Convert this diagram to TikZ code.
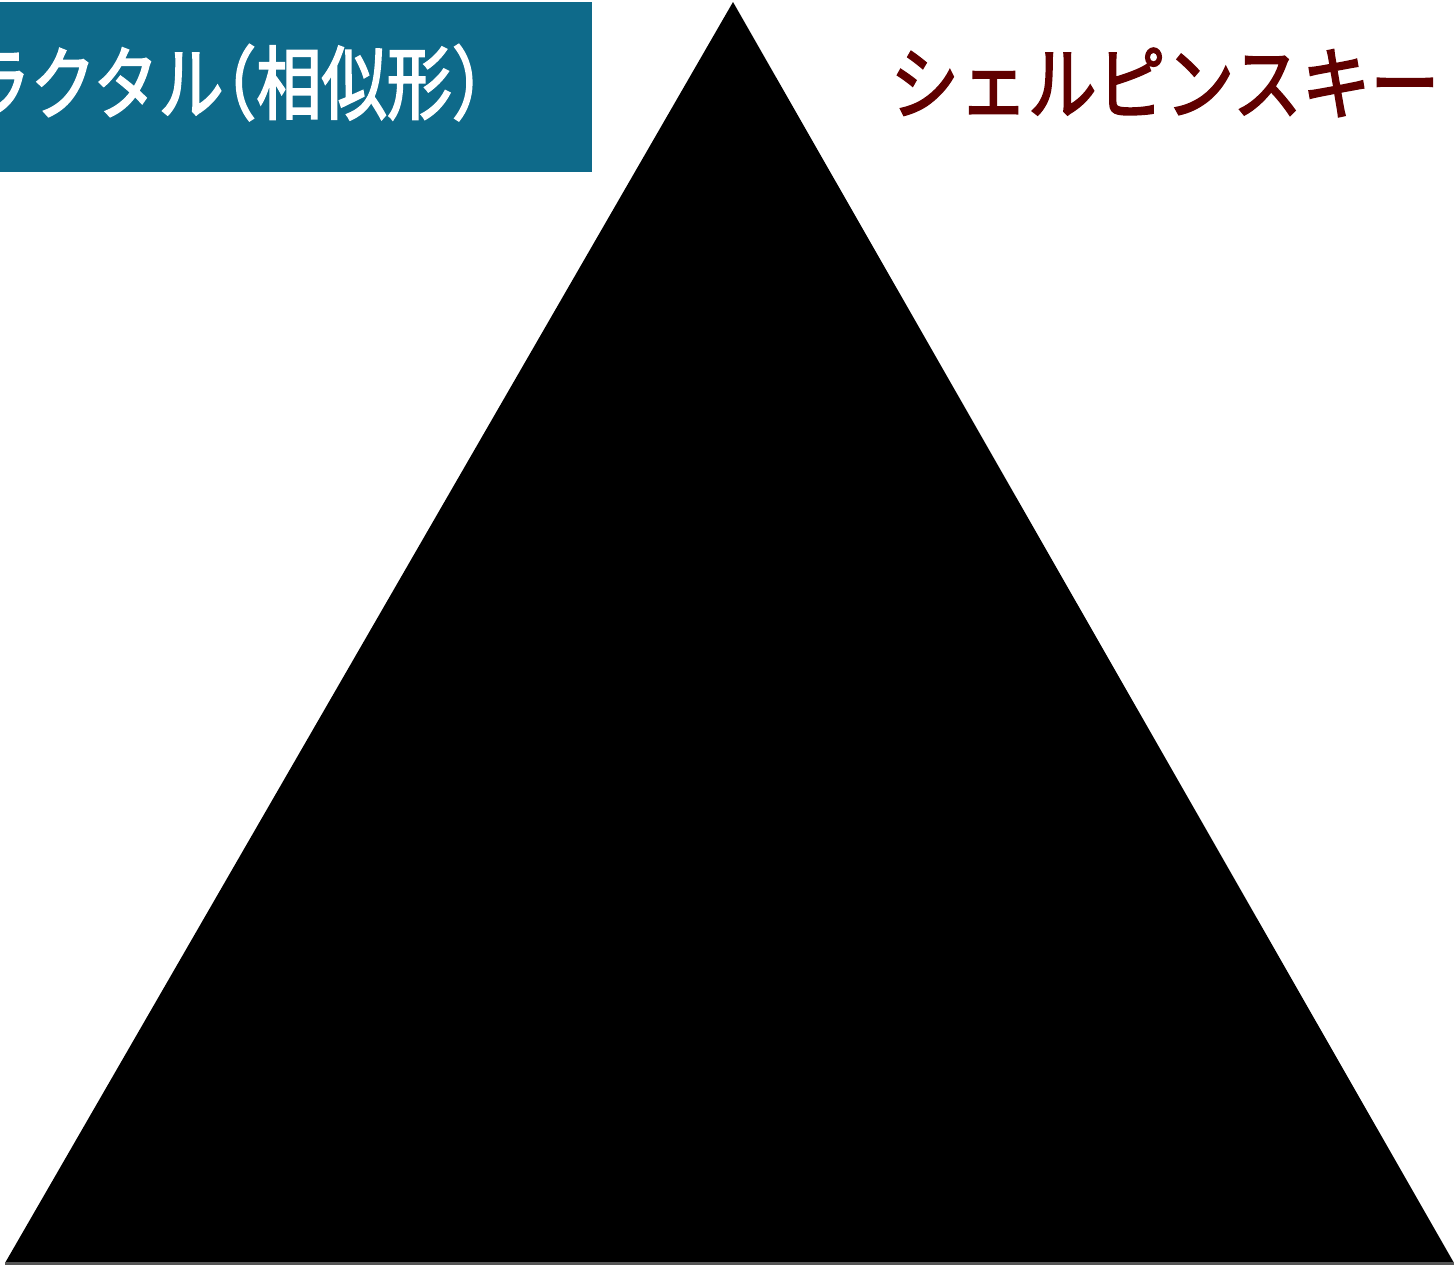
\documentclass[tikz,border=0pt]{standalone}
\usepackage{fontspec}
\newfontfamily\jp{Noto Sans CJK JP}
\newfontfamily\jph[RawFeature=+halt]{Noto Sans CJK JP}
\newcommand{\thicktext}[1]{\special{pdf:literal direct 2 Tr 1 w}#1\special{pdf:literal direct 0 Tr}}
\definecolor{teal1}{RGB}{14,106,138}
\definecolor{red1}{RGB}{96,0,0}
\definecolor{gray1}{RGB}{85,85,85}
\tikzset{
  title/.style={inner sep=0pt, font=\jp\fontsize{40pt}{44pt}\selectfont},
}
\begin{document}
\begin{tikzpicture}[x=0.5pt,y=-0.5pt]
\useasboundingbox (0,0) rectangle (1454,1265);
\clip (0,0) rectangle (1454,1265);
\coordinate (apex) at (733,2);
\coordinate (bl) at (5,1263);
\coordinate (br) at (1454,1263);
\fill[black] (apex) -- (bl) -- (br) -- cycle;
\draw[gray1, line width=1.5pt] (bl) -- (br);
\fill[teal1] (-2,2) rectangle (592,172);
\node[title, text=white, anchor=base west, xscale=0.815] (t1) at (-100,113) {\thicktext{フラクタル{\jph（}相似形{\jph）}}};
\node[title, text=red1, anchor=base west, xscale=0.86] (t2) at (890,113) {\thicktext{シェルピンスキー}};
\end{tikzpicture}
\end{document}
